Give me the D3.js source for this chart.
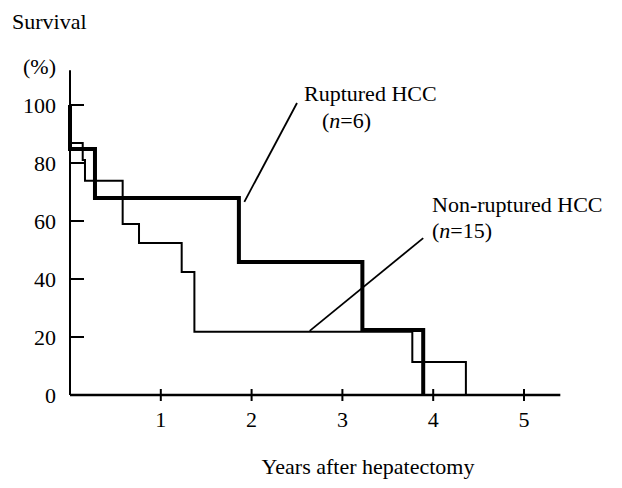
<!DOCTYPE html>
<html>
<head>
<meta charset="utf-8">
<script src="https://cdn.jsdelivr.net/npm/d3@7"></script>
<style>
  body { margin: 0; background: #fff; }
</style>
</head>
<body>
<div id="chart"></div>
<script>
const width = 622;
const height = 488;

// Kaplan-Meier steps (years, % surviving after the step)
const rupturedTimes = [0, 0, 0.275, 1.86, 3.22, 3.89];
const rupturedSurvival = [100, 84.8, 67.9, 45.9, 22.4, 0];

const nonRupturedTimes = [0, 0, 0.14, 0.165, 0.58, 0.76, 1.23, 1.37, 3.77, 4.36];
const nonRupturedSurvival = [100, 86.9, 81, 73.9, 59, 52.4, 42.4, 21.8, 11.4, 0];

const xTicks = [1, 2, 3, 4, 5];
const yTicks = [20, 40, 60, 80, 100];
const yLabels = [0, 20, 40, 60, 80, 100];

const serif = "'Liberation Serif', 'Times New Roman', Times, 'DejaVu Serif', serif";

// scales (pixel ranges fitted to the scan)
const x = d3.scaleLinear().domain([0, 5]).range([70, 524]);
const y = d3.scaleLinear().domain([0, 100]).range([395, 105]);

const svg = d3.select("#chart")
    .append("svg")
    .attr("width", width)
    .attr("height", height)
    .attr("viewBox", [0, 0, width, height])
    .attr("font-family", serif);

// axis lines, the scan runs them past the data range
svg.append("line")
    .attr("x1", x(0)).attr("x2", x(0))
    .attr("y1", y(112)).attr("y2", y(0))
    .attr("stroke", "#000").attr("stroke-width", 2);

svg.append("line")
    .attr("x1", x(0)).attr("x2", x(5.4))
    .attr("y1", y(0)).attr("y2", y(0))
    .attr("stroke", "#000").attr("stroke-width", 2.5);

// y ticks point inward
svg.append("g")
    .selectAll("line")
    .data(yTicks)
    .join("line")
    .attr("x1", x(0)).attr("x2", x(0) + 14)
    .attr("y1", d => y(d)).attr("y2", d => y(d))
    .attr("stroke", "#000").attr("stroke-width", 2);

svg.append("g")
    .attr("font-size", 22)
    .attr("text-anchor", "end")
    .selectAll("text")
    .data(yLabels)
    .join("text")
    .attr("font-family", serif)
    .attr("x", 56)
    .attr("y", d => y(d))
    .attr("dy", "0.35em")
    .text(d => d);

// x ticks cross the axis
svg.append("g")
    .selectAll("line")
    .data(xTicks)
    .join("line")
    .attr("x1", d => x(d)).attr("x2", d => x(d))
    .attr("y1", y(0) - 6).attr("y2", y(0) + 6)
    .attr("stroke", "#000").attr("stroke-width", 2);

svg.append("g")
    .attr("font-size", 22)
    .attr("text-anchor", "middle")
    .selectAll("text")
    .data(xTicks)
    .join("text")
    .attr("font-family", serif)
    .attr("x", d => x(d))
    .attr("y", 427)
    .text(d => d);

// survival curves
const step = d3.line()
    .x(d => x(d[0]))
    .y(d => y(d[1]))
    .curve(d3.curveStepAfter);

svg.append("path")
    .attr("d", step(d3.zip(nonRupturedTimes, nonRupturedSurvival)))
    .attr("fill", "none")
    .attr("stroke", "#000")
    .attr("stroke-width", 2);

svg.append("path")
    .attr("d", step(d3.zip(rupturedTimes, rupturedSurvival)))
    .attr("fill", "none")
    .attr("stroke", "#000")
    .attr("stroke-width", 4)
    .attr("stroke-linejoin", "miter");

// leader lines
svg.append("line")
    .attr("x1", x(2.5)).attr("y1", y(100.7))
    .attr("x2", x(1.92)).attr("y2", y(66.6))
    .attr("stroke", "#000").attr("stroke-width", 1.8);

svg.append("line")
    .attr("x1", x(3.89)).attr("y1", y(54.1))
    .attr("x2", x(2.64)).attr("y2", y(22.1))
    .attr("stroke", "#000").attr("stroke-width", 1.8);

// texts
const label = (tx, ty, parts, anchor) => {
    const t = svg.append("text")
        .attr("x", tx).attr("y", ty)
        .attr("font-family", serif)
        .attr("font-size", 22)
        .attr("text-anchor", anchor || "start");
    parts.forEach(([s, it]) => {
        t.append("tspan")
            .attr("font-style", it ? "italic" : "normal")
            .text(s);
    });
};

label(12, 29, [["Survival"]]);
label(23, 74, [["(%)"]]);
label(304, 101, [["Ruptured HCC"]]);
label(322, 128, [["("], ["n", true], ["=6)"]]);
label(432, 212, [["Non-ruptured HCC"]]);
label(432, 238, [["("], ["n", true], ["=15)"]]);
label(368, 474, [["Years after hepatectomy"]], "middle");
</script>
</body>
</html>
